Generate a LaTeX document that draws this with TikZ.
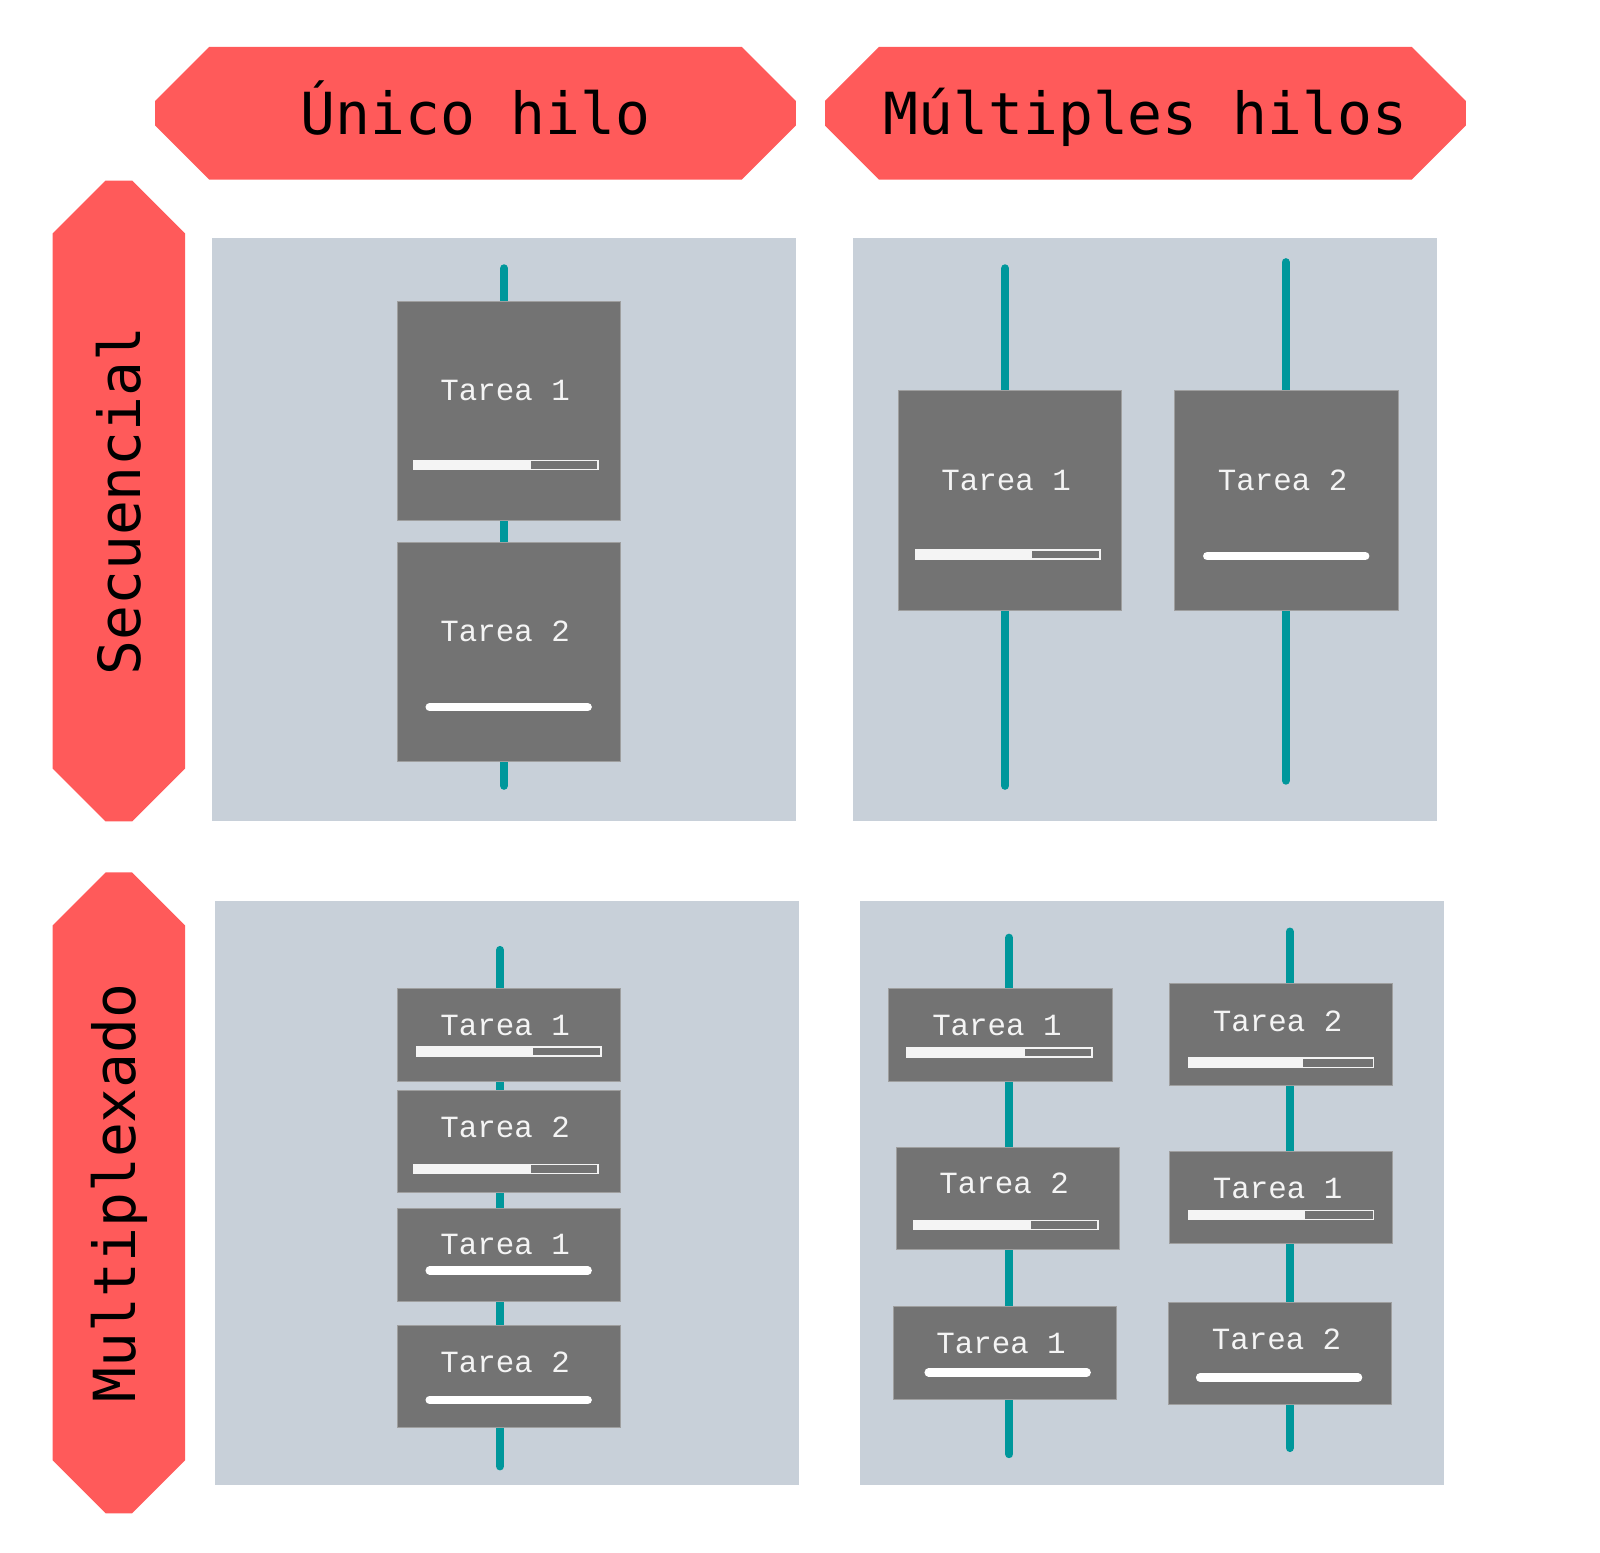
\documentclass[tikz,border=0pt]{standalone}
\usepackage{fontspec}
\newfontfamily\cabecera{DejaVu Sans Mono}
\newfontfamily\tarefont{Liberation Mono}
\definecolor{rojo}{HTML}{FF5A5A}
\definecolor{fondo}{HTML}{C8D0D9}
\definecolor{caja}{HTML}{737373}
\definecolor{verde}{HTML}{00979B}
\definecolor{blanco}{HTML}{F4F4F4}
\tikzset{
  chaflan/.style={
    rectangle,
    inner sep=0pt,
    font=\cabecera\fontsize{29}{31}\selectfont,
    path picture={
      \fill[rojo] ([xshift=#1]path picture bounding box.north west)
        -- ([xshift=-#1]path picture bounding box.north east)
        -- ([yshift=-#1]path picture bounding box.north east)
        -- ([yshift=#1]path picture bounding box.south east)
        -- ([xshift=-#1]path picture bounding box.south east)
        -- ([xshift=#1]path picture bounding box.south west)
        -- ([yshift=#1]path picture bounding box.south west)
        -- ([yshift=-#1]path picture bounding box.north west) -- cycle;
    }
  },
  titulo/.style={chaflan=27pt, minimum width=320.4pt, minimum height=66.3pt, text height=21.4pt, text depth=0pt},
  lateral/.style={chaflan=26.5pt, minimum width=66.3pt, minimum height=320.4pt},
  panel/.style={rectangle, fill=fondo, minimum size=291.8pt, inner sep=0pt},
  tarea/.style={rectangle, fill=caja, draw=gray!75, line width=0.4pt, minimum width=111.7pt, inner sep=0pt},
  alta/.style={minimum height=109.7pt},
  media/.style={minimum height=51pt},
  baja/.style={minimum height=46.4pt},
  etiqueta/.style={text=blanco, font=\tarefont\fontsize{15.4}{16}\selectfont, inner sep=0pt},
  hilo/.style={draw=verde, line width=4.1pt, line cap=round},
  barra/.style={draw=blanco, line width=0.7pt},
  hecho/.style={draw=white, line width=4.1pt, line cap=round}
}
\def\avance#1#2#3{\draw[barra] (#1,#2) rectangle ++(181,9); \fill[blanco] (#1,#2) rectangle ++(#3,9);}
\def\listo#1#2{\draw[hecho] (#1,#2) -- ++(155,0);}

\begin{document}
\begin{tikzpicture}[x=0.5102pt, y=-0.5102pt]
    \useasboundingbox (0,0) rectangle (1568,1521);
    % cabeceras
    \node[titulo] (unico) at (466,111) {Único hilo};
    \node[titulo] (multi) at (1122.5,111) {Múltiples hilos};
    \node[lateral] (secu) at (116.5,491) {\rotatebox{90}{Secuencial}};
    \node[lateral] (mplx) at (116.5,1169) {\rotatebox{90}{Multiplexado}};
    % paneles
    \node[panel] (p11) at (494,519) {};
    \node[panel] (p12) at (1122,519) {};
    \node[panel] (p21) at (497,1169) {};
    \node[panel] (p22) at (1129,1169) {};

    % secuencial, unico hilo
    \coordinate (h1a) at (494,263);
    \coordinate (h1b) at (494,770);
    \draw[hilo] (h1a) -- (h1b);
    \node[tarea, alta] (sa1) at (498.5,402.5) {};
    \node[etiqueta] at (495,383) {Tarea 1};
    \avance{405}{451}{115}
    \node[tarea, alta] (sa2) at (498.5,639) {};
    \node[etiqueta] at (495,619) {Tarea 2};
    \listo{421}{693}

    % secuencial, multiples hilos
    \coordinate (h2a) at (985,263);
    \coordinate (h2b) at (985,770);
    \coordinate (h3a) at (1260,257);
    \coordinate (h3b) at (1260,765);
    \draw[hilo] (h2a) -- (h2b);
    \draw[hilo] (h3a) -- (h3b);
    \node[tarea, alta] (sm1) at (989.5,490.5) {};
    \node[etiqueta] at (986,471) {Tarea 1};
    \avance{897}{539}{114}
    \node[tarea, alta] (sm2) at (1260.5,490.5) {};
    \node[etiqueta] at (1257,471) {Tarea 2};
    \listo{1183}{545}

    % multiplexado, unico hilo
    \coordinate (h4a) at (490,931);
    \coordinate (h4b) at (490,1437);
    \draw[hilo] (h4a) -- (h4b);
    \node[tarea, baja] (ma1) at (498.5,1014.5) {};
    \node[etiqueta] at (495,1005) {Tarea 1};
    \avance{408}{1026}{114}
    \node[tarea, media] (ma2) at (498.5,1118.5) {};
    \node[etiqueta] at (495,1105) {Tarea 2};
    \avance{405}{1141}{115}
    \node[tarea, baja] (ma3) at (498.5,1230) {};
    \node[etiqueta] at (495,1220) {Tarea 1};
    \listo{421}{1245}
    \node[tarea, media] (ma4) at (498.5,1349) {};
    \node[etiqueta] at (495,1335) {Tarea 2};
    \listo{421}{1372}

    % multiplexado, multiples hilos
    \coordinate (h5a) at (989,919);
    \coordinate (h5b) at (989,1425);
    \coordinate (h6a) at (1264,913);
    \coordinate (h6b) at (1264,1419);
    \draw[hilo] (h5a) -- (h5b);
    \draw[hilo] (h6a) -- (h6b);
    \node[tarea, baja] (mm1) at (980.5,1014.5) {};
    \node[etiqueta] at (977,1005) {Tarea 1};
    \avance{889}{1027}{115}
    \node[tarea, media] (mm2) at (987.5,1174) {};
    \node[etiqueta] at (984,1160) {Tarea 2};
    \avance{895}{1196}{115}
    \node[tarea, baja] (mm3) at (984.5,1326) {};
    \node[etiqueta] at (981,1317) {Tarea 1};
    \listo{910}{1345}
    \node[tarea, media] (mm4) at (1255.5,1014) {};
    \node[etiqueta] at (1252,1001) {Tarea 2};
    \avance{1165}{1037}{112}
    \node[tarea, baja] (mm5) at (1255.5,1173.5) {};
    \node[etiqueta] at (1252,1165) {Tarea 1};
    \avance{1165}{1186}{114}
    \node[tarea, media] (mm6) at (1254.5,1326) {};
    \node[etiqueta] at (1251,1313) {Tarea 2};
    \listo{1176}{1350}
\end{tikzpicture}
\end{document}
